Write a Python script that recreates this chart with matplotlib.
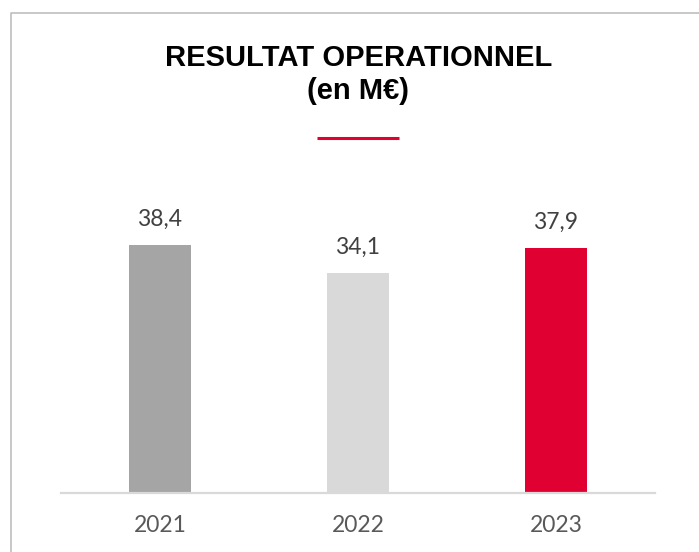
import matplotlib
matplotlib.use("Agg")
import matplotlib.pyplot as plt
from matplotlib.lines import Line2D

# Data
years = ["2021", "2022", "2023"]
values = [38.4, 34.1, 37.9]
labels = ["38,4", "34,1", "37,9"]
colors = ["#A5A5A5", "#D9D9D9", "#E00031"]
title = "RESULTAT OPERATIONNEL\n(en M€)"

W, H = 699, 552
DPI = 100
fig = plt.figure(figsize=(W / DPI, H / DPI), dpi=DPI)
fig.patch.set_facecolor("white")

def fx(px):
    return px / W

def fy(py):
    return 1 - py / H

# Axes: baseline at y=493 px, x from 61 to 655 px
ax_left, ax_right = 61, 655
base_y, top_y = 493, 150
px_per_unit = 6.46
ax = fig.add_axes([fx(ax_left), fy(base_y), (ax_right - ax_left) / W, (base_y - top_y) / H])
ax.set_xlim(-0.5, 2.5)
ax.set_ylim(0, (base_y - top_y) / px_per_unit)

x = list(range(len(years)))
bars = ax.bar(x, values, width=0.317, color=colors, zorder=2)

label_font = "Lato"
for xi, v, lab in zip(x, values, labels):
    ax.annotate(lab, (xi, v), xytext=(0, 18.5), textcoords="offset points",
                ha="center", va="center", fontsize=16.5, color="#404040",
                family=label_font)

for s in ["top", "right", "left"]:
    ax.spines[s].set_visible(False)
ax.spines["bottom"].set_color("#D9D9D9")
ax.spines["bottom"].set_linewidth(1.6)
ax.set_yticks([])
ax.set_xticks(x)
ax.set_xticklabels(years, fontsize=16.5, color="#595959", family=label_font)
ax.tick_params(axis="x", length=0, pad=16)
ax.patch.set_alpha(0)

# Title
fig.text(fx(358.2), fy(74.5), title, ha="center", va="center", fontsize=21,
         fontweight="bold", family="Liberation Sans", color="black",
         linespacing=1.26)

# Red rule under title
fig.add_artist(Line2D([fx(316.5), fx(399)], [fy(138), fy(138)],
                      color="#E00031", linewidth=2.2, solid_capstyle="butt"))

# Border (left and top)
fig.add_artist(Line2D([fx(11), fx(11), fx(699)], [fy(552), fy(13), fy(13)],
                      color="#BFBFBF", linewidth=1.2, solid_capstyle="butt"))

fig.savefig("out.png", dpi=DPI, facecolor="white")
